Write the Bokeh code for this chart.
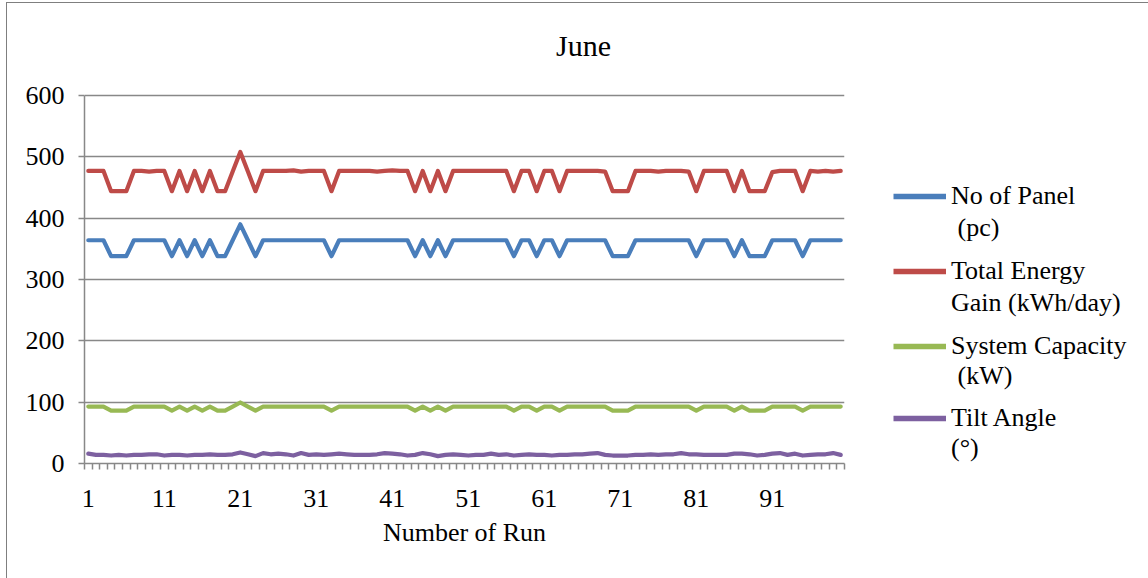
from bokeh.plotting import figure
from bokeh.layouts import row
from bokeh.models import FixedTicker, Range1d, Legend, LegendItem, Label
from bokeh.embed import file_html
from bokeh.resources import INLINE

runs = list(range(1, 101))

no_of_panel = [364, 364, 364, 338, 338, 338, 364, 364, 364, 364,
               364, 338, 364, 338, 364, 338, 364, 338, 338, 364,
               390, 364, 338, 364, 364, 364, 364, 364, 364, 364,
               364, 364, 338, 364, 364, 364, 364, 364, 364, 364,
               364, 364, 364, 338, 364, 338, 364, 338, 364, 364,
               364, 364, 364, 364, 364, 364, 338, 364, 364, 338,
               364, 364, 338, 364, 364, 364, 364, 364, 364, 338,
               338, 338, 364, 364, 364, 364, 364, 364, 364, 364,
               338, 364, 364, 364, 364, 338, 364, 338, 338, 338,
               364, 364, 364, 364, 338, 364, 364, 364, 364, 364]

energy_gain = [477, 477, 477, 444, 444, 444, 477, 477, 476, 477,
               477, 444, 477, 444, 477, 444, 477, 444, 444, 476,
               508, 476, 444, 477, 477, 477, 477, 478, 476, 477,
               477, 477, 444, 477, 477, 477, 477, 477, 476, 477,
               478, 477, 477, 444, 477, 444, 477, 444, 477, 477,
               477, 477, 477, 477, 477, 477, 444, 477, 477, 444,
               477, 477, 444, 477, 477, 477, 477, 477, 476, 444,
               444, 444, 477, 477, 477, 476, 477, 477, 477, 476,
               444, 477, 477, 477, 477, 444, 477, 444, 444, 444,
               475, 477, 477, 477, 444, 477, 476, 477, 476, 477]

system_capacity = [92.8, 92.8, 92.8, 86.2, 86.2, 86.2, 92.8, 92.8, 92.8, 92.8,
                   92.8, 86.2, 92.8, 86.2, 92.8, 86.2, 92.8, 86.2, 86.2, 92.8,
                   99.5, 92.8, 86.2, 92.8, 92.8, 92.8, 92.8, 92.8, 92.8, 92.8,
                   92.8, 92.8, 86.2, 92.8, 92.8, 92.8, 92.8, 92.8, 92.8, 92.8,
                   92.8, 92.8, 92.8, 86.2, 92.8, 86.2, 92.8, 86.2, 92.8, 92.8,
                   92.8, 92.8, 92.8, 92.8, 92.8, 92.8, 86.2, 92.8, 92.8, 86.2,
                   92.8, 92.8, 86.2, 92.8, 92.8, 92.8, 92.8, 92.8, 92.8, 86.2,
                   86.2, 86.2, 92.8, 92.8, 92.8, 92.8, 92.8, 92.8, 92.8, 92.8,
                   86.2, 92.8, 92.8, 92.8, 92.8, 86.2, 92.8, 86.2, 86.2, 86.2,
                   92.8, 92.8, 92.8, 92.8, 86.2, 92.8, 92.8, 92.8, 92.8, 92.8]

tilt_angle = [16, 14, 14, 13, 14, 13, 14, 14, 15, 15,
              13, 14, 14, 13, 14, 14, 15, 14, 14, 15,
              18, 15, 12, 17, 15, 16, 15, 13, 17, 14,
              15, 14, 15, 16, 15, 14, 14, 14, 15, 17,
              16, 15, 13, 14, 17, 15, 12, 14, 15, 14,
              13, 14, 14, 16, 14, 15, 13, 14, 15, 14,
              14, 13, 14, 14, 15, 15, 16, 17, 14, 13,
              13, 13, 14, 14, 15, 14, 15, 15, 17, 15,
              15, 14, 14, 14, 14, 16, 16, 15, 13, 14,
              16, 17, 14, 16, 13, 14, 15, 15, 17, 14]

y_ticks = [0, 100, 200, 300, 400, 500, 600]
x_ticks = [1, 11, 21, 31, 41, 51, 61, 71, 81, 91]

series_names = [("No of Panel", " (pc)"),
                ("Total Energy", "Gain (kWh/day)"),
                ("System Capacity", " (kW)"),
                ("Tilt Angle", "(\u00b0)")]
series_values = [no_of_panel, energy_gain, system_capacity, tilt_angle]
colors = ["#4A7EBB", "#BE4B48", "#98B954", "#7D60A0"]

FONT = "Liberation Serif"
GRID = "#888888"

H = 575
W1, W2 = 863, 278
FL, FW, FB = 77, 760, 115
PX_PER_UNIT = 368 / 600
y_end = (H - FB) / PX_PER_UNIT   # frame reaches the top edge; axis bounded at 600

p = figure(width=W1, height=H, output_backend="svg", toolbar_location=None,
           x_range=Range1d(0.5, 100.5), y_range=Range1d(0, y_end),
           min_border_left=FL, min_border_top=0,
           min_border_right=W1 - FL - FW, min_border_bottom=FB)
p.outline_line_color = None
p.background_fill_color = "white"
p.border_fill_color = "white"

for vals, col in zip(series_values, colors):
    p.line(runs, vals, line_color=col, line_width=4.2, line_join="round", line_cap="round")

# axes
p.xaxis.ticker = FixedTicker(ticks=x_ticks, minor_ticks=[i + 0.5 for i in range(0, 101)])
p.xaxis.major_tick_out = 0
p.xaxis.major_tick_in = 0
p.xaxis.minor_tick_out = 6
p.xaxis.minor_tick_in = 0
p.xaxis.minor_tick_line_color = GRID
p.xaxis.minor_tick_line_width = 1.5
p.xaxis.axis_line_color = GRID
p.xaxis.axis_line_width = 1.5
p.xaxis.major_label_standoff = 20
p.xaxis.major_label_text_font = FONT
p.xaxis.major_label_text_font_size = "26px"
p.xaxis.major_label_text_color = "black"
p.xaxis.axis_label = "Number of Run"
p.xaxis.axis_label_text_font = FONT
p.xaxis.axis_label_text_font_size = "26px"
p.xaxis.axis_label_text_font_style = "normal"
p.xaxis.axis_label_text_color = "black"
p.xaxis.axis_label_standoff = 8

p.yaxis.bounds = (0, 600)
p.yaxis.ticker = FixedTicker(ticks=y_ticks)
p.yaxis.minor_tick_line_color = None
p.yaxis.major_tick_out = 6
p.yaxis.major_tick_in = 0
p.yaxis.major_tick_line_color = GRID
p.yaxis.major_tick_line_width = 1.5
p.yaxis.axis_line_color = GRID
p.yaxis.axis_line_width = 1.5
p.yaxis.major_label_standoff = 14
p.yaxis.major_label_text_font = FONT
p.yaxis.major_label_text_font_size = "26px"
p.yaxis.major_label_text_color = "black"

p.xgrid.grid_line_color = None
p.ygrid.grid_line_color = GRID
p.ygrid.grid_line_width = 1.5
p.ygrid.ticker = FixedTicker(ticks=y_ticks)

# title (screen units from the frame's bottom-left corner)
p.add_layout(Label(x=499, y=418, x_units="screen", y_units="screen", text="June",
                   text_font=FONT, text_font_size="30px", text_align="center",
                   text_baseline="alphabetic", text_color="black"))

# legend panel: second figure, frame aligned vertically with the main one
q = figure(width=W2, height=H, output_backend="svg", toolbar_location=None,
           x_range=Range1d(0, 1), y_range=Range1d(0, 1),
           x_axis_location=None, y_axis_location=None,
           min_border_left=0, min_border_right=0, min_border_top=0, min_border_bottom=FB)
q.outline_line_color = None
q.xgrid.grid_line_color = None
q.ygrid.grid_line_color = None
q.background_fill_color = "white"
q.border_fill_color = "white"

blank = q.line([5, 6], [5, 6], line_alpha=0)
# (legend bottom above the frame bottom, gap between its two lines)
legend_rows = [(220, 2), (145, 2), (72, 0), (0, 0)]
for (l1, l2), col, (vy, gap) in zip(series_names, colors, legend_rows):
    sample = q.line([5, 6], [5, 6], line_color=col, line_width=5.5)
    leg = Legend(items=[LegendItem(label=l1, renderers=[sample]),
                        LegendItem(label=l2, renderers=[blank])],
                 location=(23, vy),
                 orientation="vertical", padding=0, margin=0, spacing=gap,
                 glyph_width=53, glyph_height=28, label_height=28,
                 label_standoff=5, border_line_color=None,
                 background_fill_alpha=0,
                 label_text_font=FONT, label_text_font_size="26px",
                 label_text_color="black")
    q.add_layout(leg, "center")

layout = row(p, q)
layout.styles = {"border-top": "1px solid #7f7f7f", "border-left": "1px solid #7f7f7f",
                 "margin-left": "6px", "margin-top": "2px"}

open("out.html", "w").write(file_html(layout, INLINE))
